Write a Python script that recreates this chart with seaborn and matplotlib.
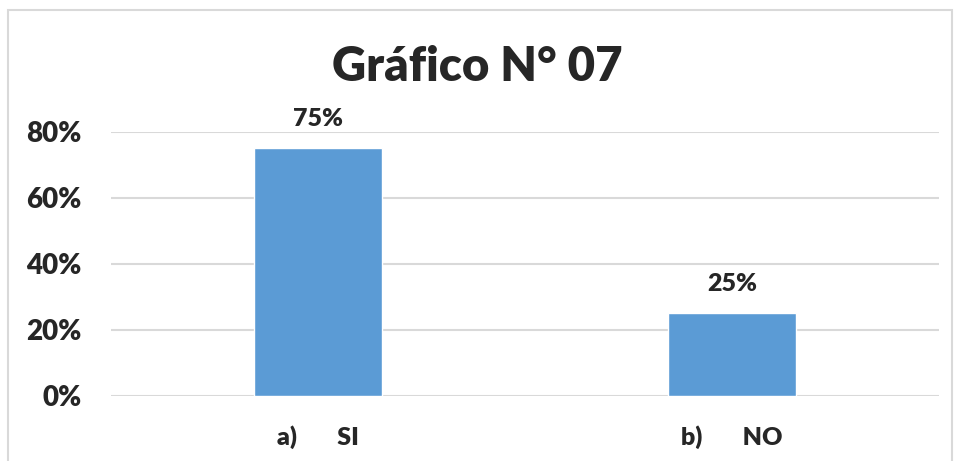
import matplotlib
matplotlib.use("Agg")
import matplotlib.pyplot as plt
import seaborn as sns
import pandas as pd
from matplotlib.patches import Rectangle

categories = ["a)       SI", "b)       NO"]
values = [0.75, 0.25]
value_labels = ["75%", "25%"]
y_ticks = [0, 0.2, 0.4, 0.6, 0.8]
y_tick_labels = ["0%", "20%", "40%", "60%", "80%"]

sns.set_style("white")
plt.rcParams["font.family"] = ["Lato", "DejaVu Sans"]

df = pd.DataFrame({"cat": categories, "val": values})

fig = plt.figure(figsize=(9.55, 4.61), dpi=100)
ax = fig.add_axes([0.1162, 0.141, 0.867, 0.573])

sns.barplot(data=df, x="cat", y="val", color="#5B9BD5", width=0.31,
            saturation=1, ax=ax, zorder=3)

ax.set_ylim(0, 0.8)
ax.set_xlim(-0.5, 1.5)
ax.set_yticks(y_ticks)
ax.set_yticklabels(y_tick_labels, fontsize=20, fontweight="heavy")
ax.tick_params(axis="y", length=0, pad=21)
ax.tick_params(axis="x", length=0, pad=21)
for lbl in ax.get_xticklabels():
    lbl.set_fontsize(18)
    lbl.set_fontweight("heavy")
ax.grid(axis="y", color="#D9D9D9", linewidth=1.5, zorder=0)
ax.set_xlabel("")
ax.set_ylabel("")
for s in ax.spines.values():
    s.set_visible(False)

for i, (v, t) in enumerate(zip(values, value_labels)):
    ax.annotate(t, (i, v), xytext=(0, 13), textcoords="offset points",
                ha="center", va="bottom", fontsize=18, fontweight="heavy")

fig.text(0.5, 0.855, "Gráfico N° 07", ha="center", va="center",
         fontsize=34, fontweight="heavy")

fig.patches.append(Rectangle((8 / 955, -0.05), 944 / 955, 1 - 10 / 461 + 0.05,
                             transform=fig.transFigure, fill=False,
                             edgecolor="#D9D9D9", linewidth=1.5))

fig.savefig("out.png", dpi=100)
